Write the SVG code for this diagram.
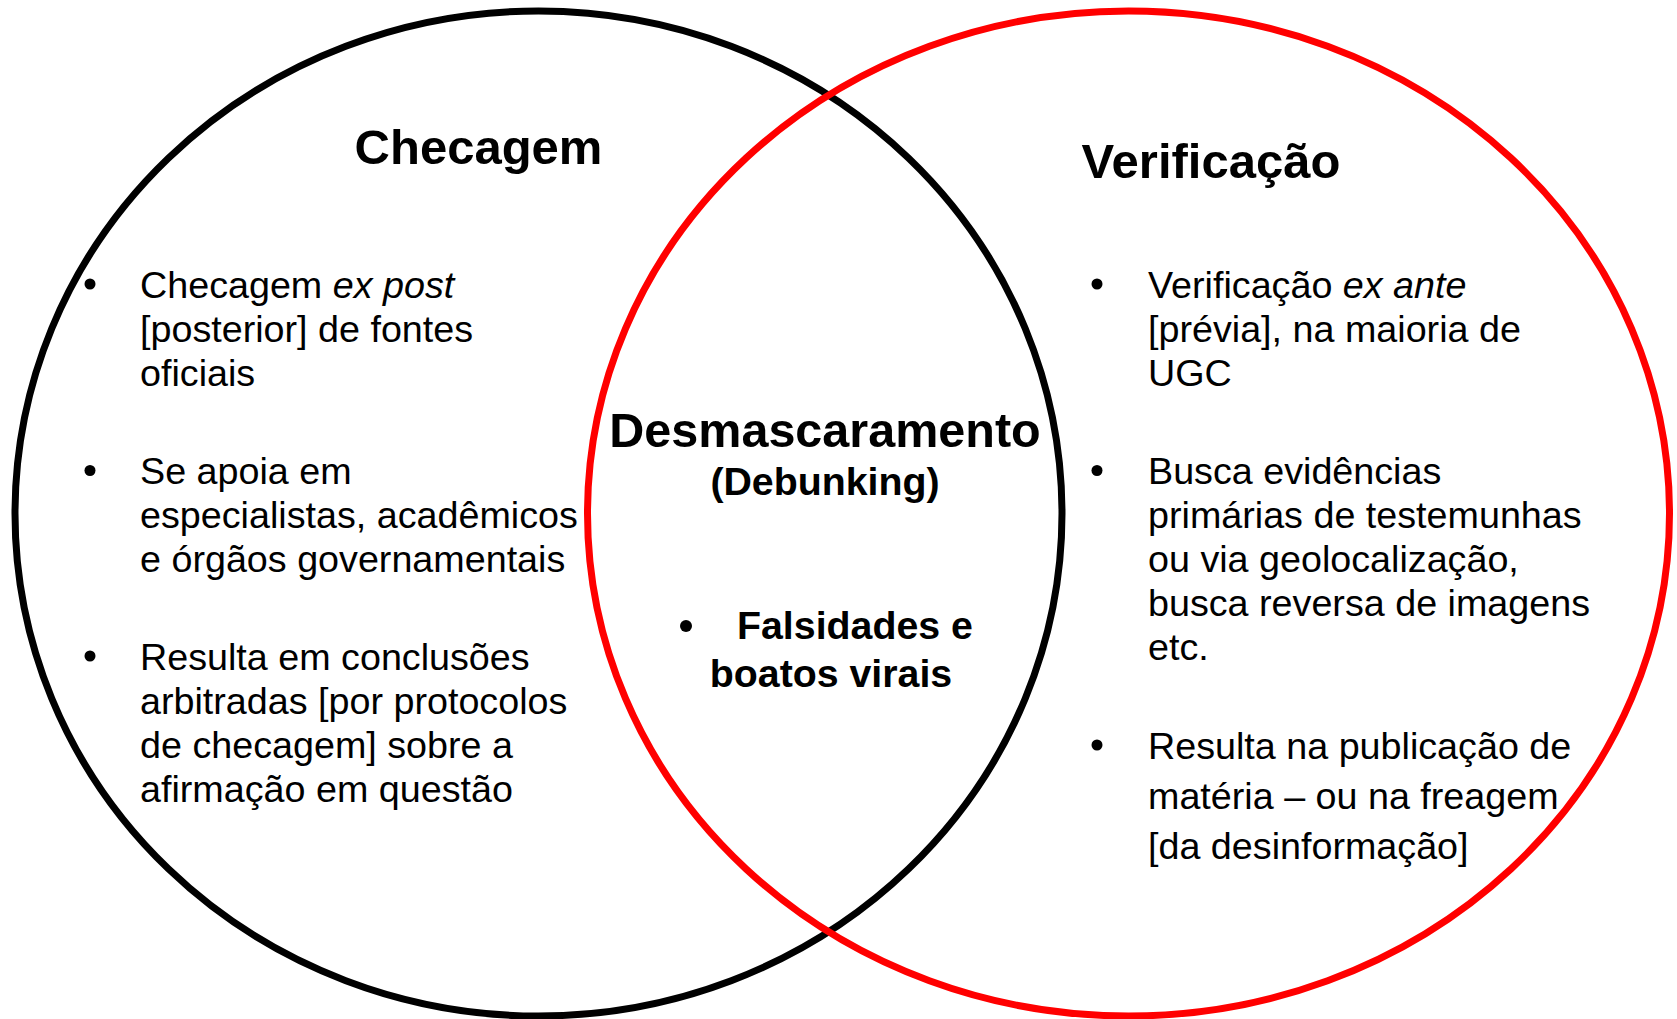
<svg xmlns="http://www.w3.org/2000/svg" width="1677" height="1019" viewBox="0 0 1677 1019">
<style>
text{font-family:"Liberation Sans",Arial,Helvetica,sans-serif;fill:#000}
.title{font-size:49px;font-weight:bold}
.center{font-size:48.5px;font-weight:bold}
.sub{font-size:39.3px;font-weight:bold}
.body{font-size:37.7px}
.it{font-style:italic}
.ring{fill:none;stroke-width:7}
</style>
<rect width="1677" height="1019" fill="#fff"/>
<g id="left-set">
<ellipse class="ring" cx="538.5" cy="513.5" rx="523.5" ry="502.5" stroke="#000"/>
</g>
<g id="right-set">
<ellipse class="ring" cx="1128.5" cy="513.5" rx="541" ry="502.5" stroke="#ff0000"/>
</g>
<g id="checagem">
<text class="title" x="478.5" y="164" text-anchor="middle">Checagem</text>
<circle cx="90" cy="284" r="5.5"/>
<text class="body" x="140" y="298">Checagem <tspan class="it">ex post</tspan></text>
<text class="body" x="140" y="342">[posterior] de fontes</text>
<text class="body" x="140" y="386">oficiais</text>
<circle cx="90" cy="470.5" r="5.5"/>
<text class="body" x="140" y="484">Se apoia em</text>
<text class="body" x="140" y="528">especialistas, acadêmicos</text>
<text class="body" x="140" y="572">e órgãos governamentais</text>
<circle cx="90" cy="656" r="5.5"/>
<text class="body" x="140" y="670">Resulta em conclusões</text>
<text class="body" x="140" y="714">arbitradas [por protocolos</text>
<text class="body" x="140" y="758">de checagem] sobre a</text>
<text class="body" x="140" y="802">afirmação em questão</text>
</g>
<g id="verificacao">
<text class="title" x="1211" y="178" text-anchor="middle">Verificação</text>
<circle cx="1097" cy="284" r="5.5"/>
<text class="body" x="1148" y="298">Verificação <tspan class="it">ex ante</tspan></text>
<text class="body" x="1148" y="342">[prévia], na maioria de</text>
<text class="body" x="1148" y="386">UGC</text>
<circle cx="1097" cy="470.5" r="5.5"/>
<text class="body" x="1148" y="484">Busca evidências</text>
<text class="body" x="1148" y="528">primárias de testemunhas</text>
<text class="body" x="1148" y="572">ou via geolocalização,</text>
<text class="body" x="1148" y="616">busca reversa de imagens</text>
<text class="body" x="1148" y="660">etc.</text>
<circle cx="1097" cy="745" r="5.5"/>
<text class="body" x="1148" y="759">Resulta na publicação de</text>
<text class="body" x="1148" y="809">matéria – ou na freagem</text>
<text class="body" x="1148" y="859">[da desinformação]</text>
</g>
<g id="desmascaramento">
<text class="center" x="825" y="447" text-anchor="middle">Desmascaramento</text>
<text class="sub" x="825" y="495" text-anchor="middle">(Debunking)</text>
<circle cx="686" cy="626" r="6"/>
<text class="sub" x="737" y="639">Falsidades e</text>
<text class="sub" x="831" y="687" text-anchor="middle">boatos virais</text>
</g>
</svg>
